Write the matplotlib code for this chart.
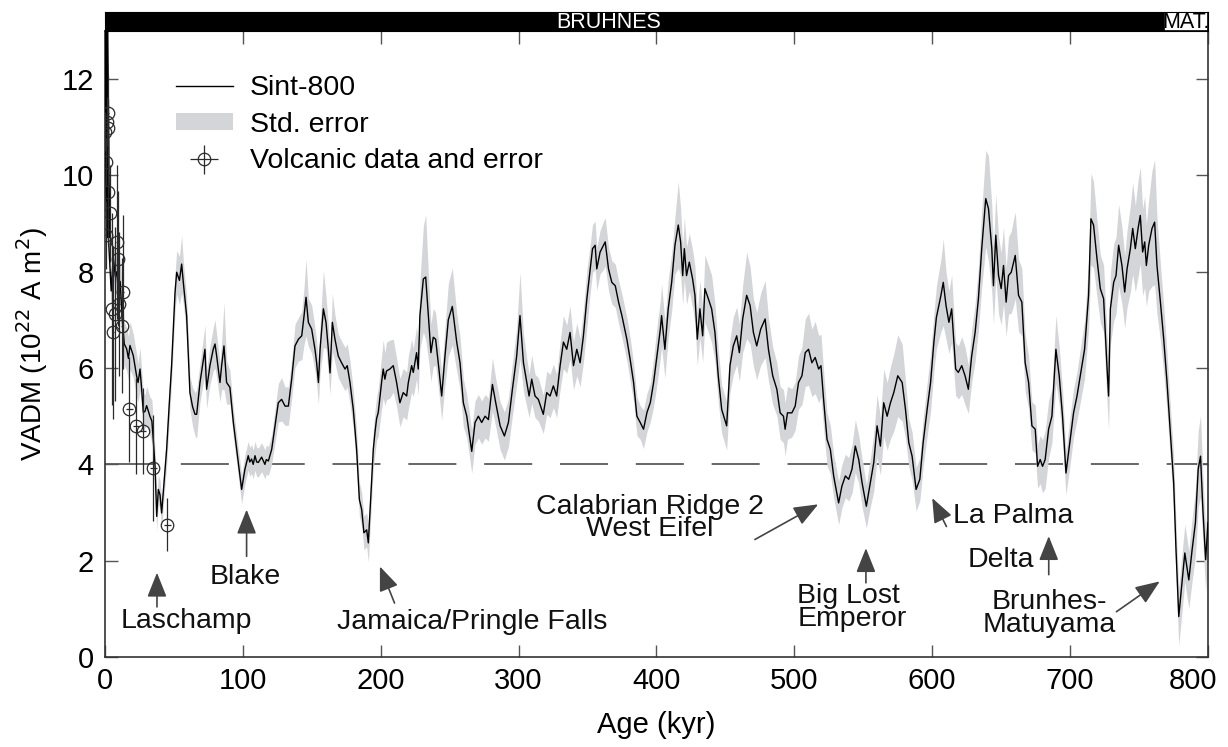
import numpy as np
import matplotlib
matplotlib.use("Agg")
import matplotlib.pyplot as plt
import matplotlib.transforms as mtransforms

plt.rcParams['font.family'] = ['Liberation Sans', 'DejaVu Sans']

# Sint-800 stack (age in kyr, VADM in 10^22 A m^2, std error)
age = [2.5, 4.5, 6.0, 7.5, 8.5, 9.7, 11.0, 12.5, 14.0, 15.7,
       17.0, 18.1, 20.5, 22.9, 24.0, 25.4, 26.6, 27.8, 29.0, 30.2,
       32.6, 34.0, 35.0, 36.3, 37.5, 38.7, 39.9, 41.1, 42.5, 44.7,
       46.5, 48.3, 50.8, 52.0, 54.0, 55.6, 56.8, 59.2, 61.6, 63.5,
       65.3, 66.5, 68.9, 71.0, 72.5, 73.7, 76.1, 78.5, 79.8, 81.0,
       83.4, 84.6, 86.3, 88.2, 90.6, 93.1, 95.5, 96.7, 99.1, 101.5,
       103.9, 105.0, 106.3, 107.5, 108.8, 110.0, 111.2, 112.5, 113.6, 116.0,
       117.0, 118.5, 120.9, 123.3, 125.7, 128.1, 130.6, 133.0, 135.4, 137.8,
       140.3, 142.7, 144.4, 145.8, 147.5, 149.9, 152.3, 153.5, 154.8, 156.0,
       158.4, 160.3, 162.0, 163.2, 164.9, 166.8, 169.2, 171.6, 174.1, 175.7,
       177.7, 180.1, 182.5, 184.5, 186.2, 187.8, 189.8, 191.0, 192.7, 194.6,
       195.8, 197.0, 198.2, 200.6, 201.8, 203.0, 204.2, 206.6, 209.1, 211.5,
       213.9, 216.3, 218.8, 220.0, 222.4, 223.6, 226.0, 227.2, 228.4, 230.9,
       232.6, 234.5, 236.4, 238.1, 239.8, 242.2, 244.2, 246.6, 249.0, 251.9,
       255.1, 257.5, 259.9, 262.4, 266.0, 268.4, 270.8, 273.2, 275.7, 278.1,
       281.0, 283.4, 286.6, 289.7, 292.6, 295.5, 298.6, 301.0, 303.5, 305.9,
       307.6, 309.5, 311.9, 314.3, 317.9, 320.4, 322.8, 325.2, 327.6, 330.1,
       332.5, 334.9, 337.3, 339.8, 342.2, 344.6, 347.0, 349.5, 351.9, 353.6,
       355.5, 356.7, 359.1, 361.6, 362.8, 365.2, 367.6, 370.1, 372.5, 374.9,
       378.5, 380.9, 383.4, 385.8, 388.2, 390.6, 393.1, 395.5, 397.9, 400.3,
       402.8, 403.7, 406.1, 408.5, 411.0, 413.4, 415.8, 417.5, 419.0, 420.2,
       421.8, 423.8, 426.2, 427.9, 429.6, 431.5, 433.5, 435.1, 437.6, 440.0,
       442.4, 444.8, 447.3, 450.9, 453.3, 455.7, 458.2, 460.1, 462.5, 465.4,
       467.9, 470.3, 472.7, 475.6, 478.8, 481.2, 484.3, 487.3, 489.7, 492.1,
       493.3, 495.0, 498.2, 500.6, 503.0, 505.5, 507.9, 510.3, 512.7, 515.1,
       517.6, 519.3, 521.2, 523.7, 526.1, 528.5, 532.1, 534.5, 537.0, 539.4,
       541.8, 544.2, 546.7, 549.1, 552.2, 555.1, 557.6, 560.0, 562.4, 564.8,
       567.3, 569.7, 572.1, 575.0, 578.2, 580.6, 583.0, 585.4, 588.3, 591.0,
       593.4, 596.3, 598.8, 601.2, 603.0, 606.3, 608.0, 610.0, 612.1, 614.1,
       616.0, 617.0, 618.9, 621.4, 623.8, 626.2, 628.6, 631.1, 633.5, 635.9,
       638.8, 640.8, 643.2, 644.4, 646.1, 648.1, 650.0, 651.7, 653.6, 655.3,
       657.3, 659.0, 660.2, 662.6, 665.0, 667.4, 669.9, 672.3, 674.7, 676.4,
       678.3, 680.0, 681.9, 684.4, 686.8, 689.7, 692.1, 694.5, 697.0, 700.1,
       702.5, 705.0, 707.4, 710.5, 713.4, 715.1, 717.0, 719.5, 721.9, 724.3,
       726.7, 727.9, 729.2, 731.6, 733.3, 735.2, 737.6, 739.6, 741.3, 743.7,
       745.4, 747.3, 749.3, 750.9, 752.6, 754.1, 755.3, 757.0, 759.4, 761.3,
       763.0, 765.5, 767.9, 770.3, 772.7, 775.1, 776.8, 778.8, 780.7, 783.2,
       786.1, 788.5, 790.9, 792.9, 794.6, 796.3, 798.3, 800.0]

vadm = [8.7, 7.6, 8.3, 7.9, 8.0, 7.6, 7.8, 7.0, 6.5, 6.4,
        6.2, 6.47, 6.26, 5.84, 5.7, 5.98, 5.56, 5.08, 5.1, 5.22,
        5.0, 4.9, 4.52, 3.96, 2.92, 3.48, 3.37, 2.99, 3.5, 4.31,
        5.2, 6.05, 7.57, 7.99, 7.82, 8.16, 7.78, 7.09, 5.49, 5.2,
        5.04, 5.04, 5.70, 6.1, 6.39, 5.56, 6.05, 6.39, 6.5, 6.25,
        5.7, 6.05, 6.46, 5.70, 5.6, 4.87, 4.31, 4.04, 3.48, 3.9,
        4.18, 4.05, 4.11, 4.0, 4.18, 4.05, 4.04, 4.1, 4.15, 4.0,
        4.1, 4.07, 4.31, 4.8, 5.28, 5.35, 5.21, 5.21, 5.77, 6.46,
        6.6, 6.67, 7.09, 7.47, 6.95, 6.81, 6.39, 6.11, 5.7, 6.39,
        7.23, 6.95, 6.39, 5.9, 6.95, 6.6, 6.25, 6.11, 5.98, 6.05,
        5.70, 5.14, 4.31, 3.27, 3.06, 2.58, 2.64, 2.37, 3.27, 4.31,
        4.66, 4.95, 5.08, 5.70, 5.98, 5.77, 5.94, 5.98, 6.05, 5.70,
        5.28, 5.49, 5.42, 5.70, 6.05, 5.91, 6.32, 5.98, 7.09, 7.85,
        7.89, 7.09, 6.32, 6.64, 6.60, 5.98, 5.42, 6.25, 7.0, 7.28,
        6.54, 6.11, 5.28, 5.00, 4.27, 4.87, 5.0, 4.87, 5.0, 4.93,
        5.66, 5.28, 4.80, 4.59, 4.87, 5.56, 6.25, 7.09, 6.11, 5.70,
        5.42, 5.77, 5.42, 5.35, 5.04, 5.49, 5.42, 5.63, 5.42, 6.05,
        6.54, 6.39, 6.74, 6.05, 6.39, 6.11, 6.67, 7.44, 8.06, 8.48,
        8.55, 8.06, 8.41, 8.55, 8.62, 8.06, 7.78, 7.71, 7.37, 7.09,
        6.60, 6.18, 5.70, 5.00, 4.87, 4.73, 5.08, 5.28, 5.70, 6.25,
        6.81, 7.09, 6.39, 7.23, 7.78, 8.55, 8.97, 8.62, 7.92, 8.48,
        7.92, 8.20, 7.85, 7.51, 6.60, 7.23, 6.67, 7.65, 7.44, 7.23,
        6.74, 5.84, 5.14, 4.80, 6.05, 6.46, 6.67, 6.32, 7.02, 7.51,
        7.30, 6.74, 6.46, 6.81, 7.02, 6.39, 5.84, 5.56, 5.07, 5.0,
        4.73, 5.07, 5.07, 5.21, 5.70, 5.84, 6.32, 6.39, 6.11, 6.22,
        5.98, 6.05, 5.35, 4.52, 4.31, 3.76, 3.20, 3.55, 3.76, 3.69,
        3.90, 4.38, 4.10, 3.62, 3.13, 3.62, 4.04, 4.80, 4.38, 5.28,
        5.0, 5.28, 5.49, 5.84, 5.70, 5.14, 4.45, 4.17, 3.48, 3.69,
        4.45, 5.14, 5.70, 6.54, 7.05, 7.51, 7.78, 7.30, 6.95, 7.23,
        6.39, 5.98, 5.91, 6.05, 5.84, 5.56, 6.25, 6.74, 7.44, 8.48,
        9.52, 9.31, 8.48, 7.71, 8.76, 7.92, 7.65, 8.13, 7.37, 7.92,
        7.99, 8.20, 8.34, 7.51, 7.37, 6.11, 5.70, 4.80, 4.73, 3.96,
        4.10, 3.96, 4.10, 4.73, 5.0, 6.39, 5.84, 5.0, 3.82, 4.52,
        5.07, 5.42, 5.84, 6.39, 7.51, 9.10, 8.97, 8.27, 7.65, 7.44,
        6.05, 5.42, 7.23, 7.78, 7.92, 8.55, 8.13, 7.58, 8.06, 8.48,
        8.90, 8.48, 8.90, 9.17, 8.41, 8.62, 8.13, 8.55, 8.90, 9.03,
        8.13, 7.37, 6.60, 5.70, 4.66, 3.62, 2.23, 0.84, 1.40, 2.16,
        1.60, 2.23, 2.79, 3.90, 4.17, 3.06, 2.02, 2.79]

std_err = [0.3, 0.35, 0.4, 0.4, 0.4, 0.4, 0.45, 0.45, 0.45, 0.45,
           0.45, 0.5, 0.45, 0.45, 0.4, 0.45, 0.4, 0.4, 0.35, 0.4,
           0.4, 0.45, 0.4, 0.35, 0.3, 0.3, 0.3, 0.3, 0.3, 0.35,
           0.35, 0.35, 0.4, 0.45, 0.5, 0.6, 0.45, 0.4, 0.35, 0.4,
           0.45, 0.5, 0.4, 0.45, 0.5, 0.4, 0.4, 0.45, 0.5, 0.45,
           0.4, 0.5, 0.9, 0.45, 0.35, 0.3, 0.3, 0.3, 0.3, 0.3,
           0.3, 0.3, 0.3, 0.3, 0.3, 0.3, 0.3, 0.3, 0.3, 0.3,
           0.3, 0.3, 0.3, 0.35, 0.4, 0.45, 0.4, 0.4, 0.4, 0.45,
           0.45, 0.5, 0.6, 0.8, 0.5, 0.5, 0.45, 0.45, 0.45, 0.5,
           0.8, 0.55, 0.5, 0.45, 0.6, 0.5, 0.45, 0.45, 0.45, 0.45,
           0.45, 0.4, 0.4, 0.35, 0.35, 0.35, 0.35, 0.4, 0.4, 0.4,
           0.45, 0.45, 0.5, 0.55, 0.6, 0.55, 0.6, 0.6, 0.55, 0.5,
           0.5, 0.5, 0.5, 0.55, 0.55, 0.5, 0.55, 0.55, 0.7, 1.1,
           1.3, 0.9, 0.6, 0.6, 0.55, 0.5, 0.5, 0.6, 0.75, 0.8,
           0.6, 0.55, 0.5, 0.45, 0.45, 0.45, 0.45, 0.45, 0.45, 0.45,
           0.55, 0.5, 0.5, 0.5, 0.5, 0.55, 0.6, 0.9, 0.6, 0.5,
           0.45, 0.5, 0.45, 0.45, 0.4, 0.45, 0.45, 0.45, 0.45, 0.5,
           0.55, 0.5, 0.55, 0.5, 0.55, 0.5, 0.55, 0.6, 0.5, 0.5,
           0.5, 0.45, 0.45, 0.5, 0.5, 0.45, 0.45, 0.45, 0.45, 0.45,
           0.45, 0.45, 0.4, 0.4, 0.35, 0.4, 0.4, 0.4, 0.5, 0.6,
           0.6, 0.65, 0.6, 0.6, 0.6, 0.6, 0.9, 0.7, 0.6, 0.65,
           0.6, 0.6, 0.6, 0.6, 0.55, 0.6, 0.55, 0.7, 0.7, 0.7,
           0.6, 0.55, 0.5, 0.5, 0.55, 0.6, 0.6, 0.6, 0.7, 0.9,
           0.8, 0.7, 0.7, 0.75, 0.8, 0.65, 0.6, 0.55, 0.55, 0.55,
           0.55, 0.55, 0.5, 0.5, 0.55, 0.6, 0.7, 0.75, 0.7, 0.75,
           0.7, 0.65, 0.6, 0.55, 0.5, 0.45, 0.45, 0.45, 0.45, 0.45,
           0.5, 0.55, 0.5, 0.5, 0.45, 0.5, 0.6, 0.65, 0.6, 0.7,
           0.7, 0.75, 0.8, 0.85, 0.8, 0.6, 0.5, 0.5, 0.45, 0.45,
           0.5, 0.55, 0.6, 0.6, 0.65, 0.75, 0.9, 0.7, 0.65, 0.7,
           0.6, 0.55, 0.55, 0.6, 0.6, 0.5, 0.55, 0.6, 0.65, 0.8,
           1.0, 1.1, 0.9, 0.8, 0.85, 0.8, 0.75, 0.8, 0.7, 0.8,
           0.85, 0.9, 0.9, 0.75, 0.7, 0.6, 0.55, 0.5, 0.5, 0.45,
           0.5, 0.55, 0.6, 0.6, 0.55, 0.7, 0.6, 0.55, 0.45, 0.5,
           0.5, 0.5, 0.55, 0.6, 0.7, 0.95, 0.9, 0.8, 0.7, 0.7,
           0.7, 0.7, 0.75, 0.8, 0.8, 0.85, 0.8, 0.75, 0.8, 0.9,
           0.95, 0.9, 1.0, 1.0, 0.9, 0.95, 0.85, 0.95, 1.2, 1.3,
           1.0, 0.8, 0.7, 0.6, 0.55, 0.55, 0.55, 0.6, 0.6, 0.6,
           0.6, 0.65, 0.7, 0.8, 0.85, 0.7, 0.65, 0.7]

# youngest part of the curve (drawn heavy)
recent_age = [0.8, 1.2, 1.8, 2.5]
recent_vadm = [13.4, 12.0, 10.0, 8.7]

# volcanic data
volc_age = [2.4, 1.2, 2.4, 0.3, 0.5, 2.4, 3.6, 0.5, 8.5, 9.7, 13.3,
            10.4, 4.8, 7.3, 12.1, 6.0, 17.6, 22.5, 27.3, 35.0, 45.2]
volc_vadm = [11.29, 11.12, 10.98, 10.91, 10.28, 9.66, 9.21, 8.76, 8.62, 8.27, 7.58,
             7.33, 7.23, 7.12, 6.88, 6.74, 5.14, 4.79, 4.69, 3.93, 2.75]
volc_err = [0.8, 0.5, 0.6, 0.4, 0.5, 1.1, 1.0, 0.7, 1.6, 1.4, 1.6,
            1.5, 2.0, 1.8, 1.4, 1.8, 1.1, 1.0, 0.9, 1.1, 0.55]
volc_age_err = [0.3, 0.3, 0.3, 0.3, 0.3, 0.3, 0.3, 0.3, 0.3, 0.3, 0.3,
                0.3, 0.3, 0.3, 0.3, 0.3, 2.5, 2.5, 2.5, 2.5, 2.5]

# excursions
event_names = ['Laschamp', 'Blake', 'Jamaica/Pringle Falls',
               'Calabrian Ridge 2\nWest Eifel', 'Big Lost\nEmperor',
               'La Palma', 'Delta', 'Brunhes-\nMatuyama']
label_x = [58.9, 101.5, 266, 395, 541.7, 659, 650, 684.6]
label_y = [0.74, 1.67, 0.73, 2.89, 1.03, 2.92, 2.02, 0.9]
label_align = ['center', 'center', 'center', 'center', 'left', 'center', 'center', 'center']
tail_x = [37.7, 102.7, 210.0, 471.4, 551.9, 610.3, 684.5, 733.6]
tail_y = [1.04, 2.09, 1.12, 2.44, 1.54, 2.71, 1.71, 0.94]
tip_x = [37.7, 102.7, 199.4, 517.3, 551.9, 600.0, 684.5, 765.0]
tip_y = [1.75, 3.06, 1.88, 3.17, 2.26, 3.30, 2.51, 1.57]

# polarity chrons
chron_names = ['BRUHNES', 'MAT.']
chron_start = [0, 768]
chron_end = [768, 800]
chron_face = ['black', 'white']
chron_text = ['white', 'black']
chron_label_x = [365, 784]

fig = plt.figure(figsize=(12.28, 7.47), dpi=100)
ax = fig.add_axes([0.0855, 0.1205, 0.8982, 0.838])

age = np.array(age)
vadm = np.array(vadm)
std_err = np.array(std_err)

ax.plot([0, 800], [4, 4], color='#5a5a5a', lw=1.3, linestyle=(0, (26.6, 15.4)), zorder=1)
band = ax.fill_between(age, vadm - std_err, vadm + std_err, color='#d4d5d9', lw=0, zorder=2)
line, = ax.plot(age, vadm, color='black', lw=1.0, zorder=3)
ax.plot(recent_age, recent_vadm, color='black', lw=3.2, zorder=3, solid_capstyle='butt')
ebar = ax.errorbar(volc_age, volc_vadm, yerr=volc_err, xerr=volc_age_err, fmt='o',
                   ms=9, mfc='none', mec='#2a2a2a', mew=0.9, ecolor='#2a2a2a',
                   elinewidth=0.9, capsize=0, zorder=4)

for name, lx, ly, al, tx, ty, hx, hy in zip(event_names, label_x, label_y, label_align,
                                           tail_x, tail_y, tip_x, tip_y):
    ax.annotate('', xy=(hx, hy), xytext=(tx, ty),
                arrowprops=dict(arrowstyle='-|>,head_length=0.75,head_width=0.3',
                                color='#444444', lw=1.2, mutation_scale=20,
                                shrinkA=0, shrinkB=0), zorder=5)
    ax.text(lx, ly, name, ha='center', va='center', multialignment=al,
            fontsize=20.5, linespacing=0.82, color='#111111', zorder=5)

ax.set_xlim(0, 800)
ax.set_ylim(0, 13)
ax.set_xticks(np.arange(0, 801, 100))
ax.set_yticks(np.arange(0, 13, 2))
ax.tick_params(direction='in', length=9, width=1, color='#555555', labelsize=21,
               top=True, right=True)
ax.tick_params(axis='x', pad=7)
ax.tick_params(axis='y', pad=8)
for s in ax.spines.values():
    s.set_color('#333333')
    s.set_linewidth(1.2)

# last age label sits a little left of the frame corner
last = ax.get_xticklabels()[-1]
last.set_transform(last.get_transform() +
                   mtransforms.ScaledTranslation(-0.15, 0, fig.dpi_scale_trans))

ax.set_xlabel('Age (kyr)', fontsize=21, labelpad=12)
ax.set_ylabel('VADM (10$^{22}$ A m$^{2}$)', fontsize=20, labelpad=8)

ax.legend(handles=[line, band, ebar],
          labels=['Sint-800', 'Std. error', 'Volcanic data and error'],
          loc='upper left', bbox_to_anchor=(0.064, 0.93), frameon=False,
          fontsize=20.5, handlelength=2.0, handleheight=0.5, handletextpad=0.6,
          labelspacing=0.38, borderpad=0, borderaxespad=0)

# polarity bar on top
bar = fig.add_axes([0.0855, 0.9585, 0.8982, 0.0254])
for name, s, e, fc, tc, lx in zip(chron_names, chron_start, chron_end,
                                  chron_face, chron_text, chron_label_x):
    bar.axvspan(s, e, facecolor=fc, edgecolor='black', lw=1.2)
    bar.text(lx, 0.45, name, ha='center', va='center', color=tc, fontsize=15.5,
             clip_on=True)
bar.set_xlim(0, 800)
bar.set_ylim(0, 1)
bar.set_xticks([])
bar.set_yticks([])
for s in bar.spines.values():
    s.set_color('black')

fig.savefig('out.png', dpi=100)
